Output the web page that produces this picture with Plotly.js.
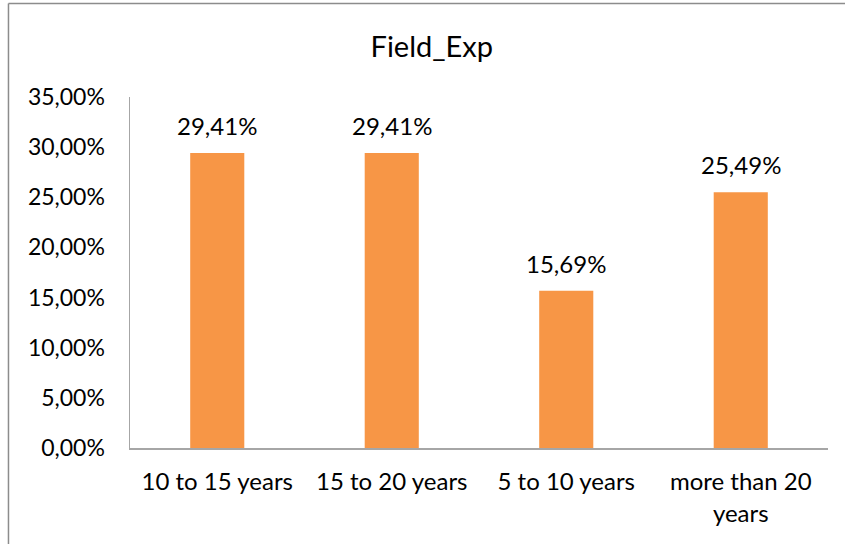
<!DOCTYPE html>
<html>
<head>
<meta charset="utf-8">
<script src="https://cdn.plot.ly/plotly-3.0.1.min.js"></script>
<style>
  html, body { margin: 0; padding: 0; background: #fff; }
  #chart { width: 845px; height: 544px; }
</style>
</head>
<body>
<div id="chart"></div>
<script>
// Field experience groups and their shares of respondents
const categories = ['10 to 15 years', '15 to 20 years', '5 to 10 years', 'more than 20 years'];
const categoryLabels = ['10 to 15 years', '15 to 20 years', '5 to 10 years', 'more than 20<br>years'];
const shares = [0.2941, 0.2941, 0.1569, 0.2549];
const yTicks = [0, 0.05, 0.10, 0.15, 0.20, 0.25, 0.30, 0.35];

const FONT = 'Lato, "Open Sans", sans-serif';
const BORDER = '#8c8c8c';

function pct(v) {
  return (v * 100).toFixed(2).replace('.', ',') + '%';
}

const trace = {
  type: 'bar',
  x: categories,
  y: shares,
  marker: { color: '#F79646', line: { width: 0 } },
  hoverinfo: 'skip'
};

// value labels floating above each bar
const valueLabels = categories.map((c, i) => ({
  x: c, y: shares[i], xref: 'x', yref: 'y',
  text: pct(shares[i]), showarrow: false,
  yanchor: 'bottom', yshift: 11,
  font: { family: FONT, size: 24, color: '#000' }
}));

const layout = {
  width: 845, height: 544,
  margin: { l: 130, r: 17, t: 97, b: 96 },
  paper_bgcolor: '#fff', plot_bgcolor: '#fff',
  separators: ', ',
  showlegend: false,
  bargap: 0.69,
  font: { family: FONT, size: 24, color: '#000' },
  title: {
    text: 'Field_Exp',
    x: 0.511, xref: 'container', xanchor: 'center',
    y: 0.914, yref: 'container', yanchor: 'middle',
    font: { family: FONT, size: 29, color: '#000' }
  },
  xaxis: {
    type: 'category',
    tickvals: categories,
    ticktext: categoryLabels,
    showline: true, linecolor: '#a6a6a6', linewidth: 1.5,
    ticks: '', showgrid: false, zeroline: false,
    ticklabelstandoff: 12,
    tickfont: { family: FONT, size: 24, color: '#000' }
  },
  yaxis: {
    range: [0, 0.35],
    tickvals: yTicks,
    tickformat: '.2%',
    showline: true, linecolor: '#a6a6a6', linewidth: 1.5,
    ticks: '', showgrid: false, zeroline: false,
    ticklabelstandoff: 19,
    tickfont: { family: FONT, size: 23, color: '#000' }
  },
  annotations: valueLabels,
  shapes: [
    // outer chart frame (left and top edges)
    { type: 'line', xref: 'paper', yref: 'paper',
      x0: -0.1741, x1: -0.1741, y0: -0.4, y1: 1.2664,
      line: { color: BORDER, width: 1.5 } },
    { type: 'line', xref: 'paper', yref: 'paper',
      x0: -0.1741, x1: 1.1, y0: 1.2664, y1: 1.2664,
      line: { color: BORDER, width: 1.5 } }
  ]
};

Plotly.newPlot('chart', [trace], layout, { displayModeBar: false, staticPlot: true });
</script>
</body>
</html>
